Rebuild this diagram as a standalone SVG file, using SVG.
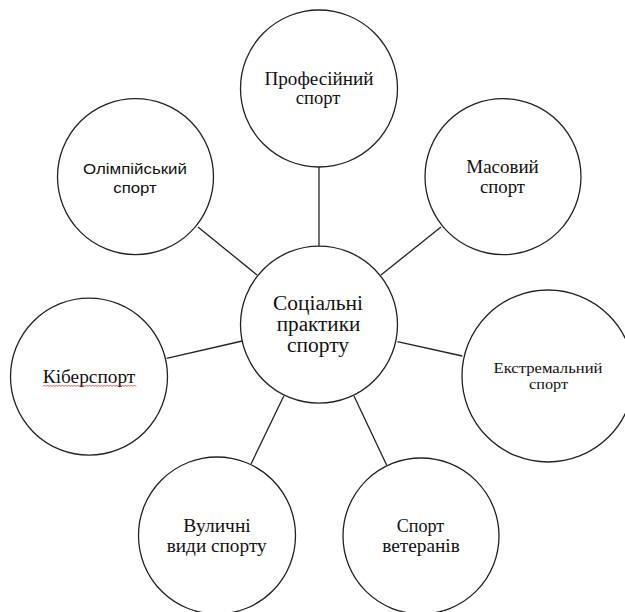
<svg xmlns="http://www.w3.org/2000/svg" width="625" height="612" viewBox="0 0 625 612">
<style>
.c{fill:#fff;stroke:#222;stroke-width:1.3}
.l{stroke:#222;stroke-width:1.3;fill:none}
</style>
<rect width="625" height="612" fill="#fff"/>
<g id="connectors">
<line class="l" x1="319" y1="167" x2="319" y2="246"/>
<line class="l" x1="198" y1="227" x2="257" y2="275"/>
<line class="l" x1="441" y1="227" x2="381" y2="275"/>
<line class="l" x1="166.6" y1="358.3" x2="242.3" y2="341"/>
<line class="l" x1="397.4" y1="341.7" x2="462.3" y2="356"/>
<line class="l" x1="283.8" y1="396" x2="251" y2="464"/>
<line class="l" x1="354" y1="396" x2="386.6" y2="465"/>
</g>
<g id="prof">
<circle class="c" cx="319" cy="88.5" r="78.5"/>
<text font-family="Liberation Serif" font-size="19" fill="#111" text-anchor="middle" x="319" y="85" textLength="109" lengthAdjust="spacingAndGlyphs">Професійний</text>
<text font-family="Liberation Serif" font-size="19" fill="#111" text-anchor="middle" x="318" y="104" textLength="44.5" lengthAdjust="spacingAndGlyphs">спорт</text>
</g>
<g id="olymp">
<circle class="c" cx="135.5" cy="176.7" r="78"/>
<text font-family="Liberation Sans" font-size="15.5" fill="#111" text-anchor="middle" x="135" y="174" textLength="104" lengthAdjust="spacingAndGlyphs">Олімпійський</text>
<text font-family="Liberation Sans" font-size="15.5" fill="#111" text-anchor="middle" x="135" y="192.7" textLength="43.5" lengthAdjust="spacingAndGlyphs">спорт</text>
</g>
<g id="mass">
<circle class="c" cx="503" cy="176.7" r="78"/>
<text font-family="Liberation Serif" font-size="19" fill="#111" text-anchor="middle" x="502.5" y="173" textLength="72.5" lengthAdjust="spacingAndGlyphs">Масовий</text>
<text font-family="Liberation Serif" font-size="19" fill="#111" text-anchor="middle" x="502.5" y="193" textLength="45" lengthAdjust="spacingAndGlyphs">спорт</text>
</g>
<g id="center">
<circle class="c" cx="319" cy="324.7" r="78.5"/>
<text font-family="Liberation Serif" font-size="20.5" fill="#111" text-anchor="middle" x="318" y="310" textLength="90" lengthAdjust="spacingAndGlyphs">Соціальні</text>
<text font-family="Liberation Serif" font-size="20.5" fill="#111" text-anchor="middle" x="318.5" y="331" textLength="83.5" lengthAdjust="spacingAndGlyphs">практики</text>
<text font-family="Liberation Serif" font-size="20.5" fill="#111" text-anchor="middle" x="318" y="351.5" textLength="62" lengthAdjust="spacingAndGlyphs">спорту</text>
</g>
<g id="cyber">
<circle class="c" cx="89" cy="376.7" r="78.5"/>
<text font-family="Liberation Serif" font-size="19" fill="#111" text-anchor="middle" x="89" y="383" textLength="92.5" lengthAdjust="spacingAndGlyphs">Кіберспорт</text>
<path d="M43,386.5 l1.5,-1.5 l1.5,1.5 l1.5,-1.5 l1.5,1.5 l1.5,-1.5 l1.5,1.5 l1.5,-1.5 l1.5,1.5 l1.5,-1.5 l1.5,1.5 l1.5,-1.5 l1.5,1.5 l1.5,-1.5 l1.5,1.5 l1.5,-1.5 l1.5,1.5 l1.5,-1.5 l1.5,1.5 l1.5,-1.5 l1.5,1.5 l1.5,-1.5 l1.5,1.5 l1.5,-1.5 l1.5,1.5 l1.5,-1.5 l1.5,1.5 l1.5,-1.5 l1.5,1.5 l1.5,-1.5 l1.5,1.5 l1.5,-1.5 l1.5,1.5 l1.5,-1.5 l1.5,1.5 l1.5,-1.5 l1.5,1.5 l1.5,-1.5 l1.5,1.5 l1.5,-1.5 l1.5,1.5 l1.5,-1.5 l1.5,1.5 l1.5,-1.5 l1.5,1.5 l1.5,-1.5 l1.5,1.5 l1.5,-1.5 l1.5,1.5 l1.5,-1.5 l1.5,1.5 l1.5,-1.5 l1.5,1.5 l1.5,-1.5 l1.5,1.5 l1.5,-1.5 l1.5,1.5 l1.5,-1.5 l1.5,1.5 l1.5,-1.5 l1.5,1.5 l1.5,-1.5 l1.5,1.5" fill="none" stroke="#e03030" stroke-width="0.8"/>
</g>
<g id="extreme">
<circle class="c" cx="548" cy="376" r="86"/>
<text font-family="Liberation Serif" font-size="15.5" fill="#111" text-anchor="middle" x="548" y="372.5" textLength="109" lengthAdjust="spacingAndGlyphs">Екстремальний</text>
<text font-family="Liberation Serif" font-size="15.5" fill="#111" text-anchor="middle" x="548.5" y="389" textLength="39" lengthAdjust="spacingAndGlyphs">спорт</text>
</g>
<g id="street">
<circle class="c" cx="217" cy="535.5" r="78.5"/>
<text font-family="Liberation Serif" font-size="19" fill="#111" text-anchor="middle" x="217" y="532" textLength="67.5" lengthAdjust="spacingAndGlyphs">Вуличні</text>
<text font-family="Liberation Serif" font-size="19" fill="#111" text-anchor="middle" x="216.7" y="551.7" textLength="100" lengthAdjust="spacingAndGlyphs">види спорту</text>
</g>
<g id="veterans">
<circle class="c" cx="421" cy="536" r="78"/>
<text font-family="Liberation Serif" font-size="19" fill="#111" text-anchor="middle" x="420.5" y="532" textLength="47.5" lengthAdjust="spacingAndGlyphs">Спорт</text>
<text font-family="Liberation Serif" font-size="19" fill="#111" text-anchor="middle" x="421" y="551.7" textLength="77.7" lengthAdjust="spacingAndGlyphs">ветеранів</text>
</g>
</svg>
